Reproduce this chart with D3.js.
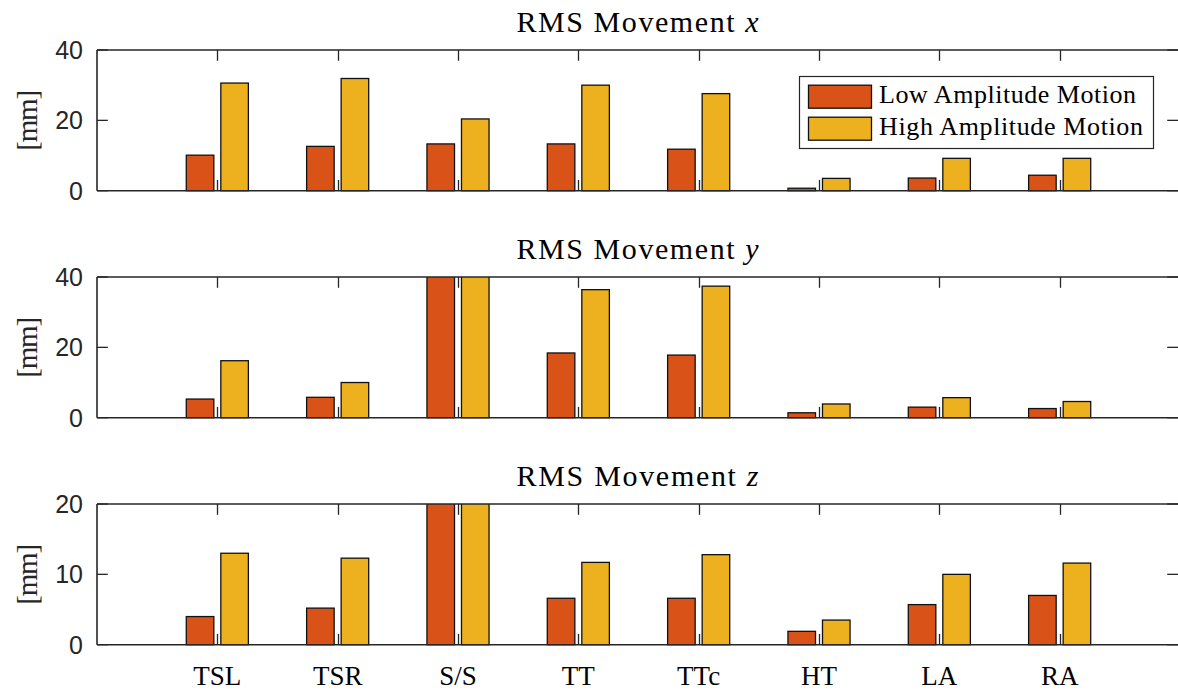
<!DOCTYPE html>
<html>
<head>
<meta charset="utf-8">
<script src="https://cdn.jsdelivr.net/npm/d3@7"></script>
<style>
  html, body { margin: 0; padding: 0; background: #fff; }
  svg { display: block; }
</style>
</head>
<body>
<svg id="chart" width="1178" height="693"></svg>
<script>
// ---- data ----
const categories = ["TSL", "TSR", "S/S", "TT", "TTc", "HT", "LA", "RA"];
const seriesNames = ["Low Amplitude Motion", "High Amplitude Motion"];
const panelTitles = ["x", "y", "z"];

// RMS movement x [mm]
const xLow  = [10.1, 12.6, 13.3, 13.3, 11.8, 0.7, 3.6, 4.4];
const xHigh = [30.6, 31.9, 20.4, 30.0, 27.6, 3.5, 9.2, 9.2];
// RMS movement y [mm]  (S/S exceeds axis limit)
const yLow  = [5.3, 5.8, 48.0, 18.4, 17.8, 1.4, 3.0, 2.6];
const yHigh = [16.2, 10.0, 52.0, 36.4, 37.4, 3.9, 5.7, 4.6];
// RMS movement z [mm]  (S/S exceeds axis limit)
const zLow  = [4.0, 5.2, 26.0, 6.6, 6.6, 1.9, 5.7, 7.0];
const zHigh = [13.0, 12.3, 28.0, 11.7, 12.8, 3.5, 10.0, 11.6];

const yMax = [40, 40, 20];
const yTicks = [[0, 20, 40], [0, 20, 40], [0, 10, 20]];

const panelData = [[xLow, xHigh], [yLow, yHigh], [zLow, zHigh]];
const colors = ["#D95319", "#EDB120"];

// ---- layout ----
const svg = d3.select("#chart");
const left = 97, right = 1180;
const panelTops = [50, 277, 504];
const panelH = 140.7;
const axisColor = "#262626";
const tickLen = 10.8;
const barW = 0.229, barOff = 0.1435;
const serif = "Liberation Serif, Times New Roman, serif";

const x = d3.scaleLinear().domain([0, 9]).range([left, right]);

panelData.forEach((series, p) => {
  const top = panelTops[p], bottom = top + panelH;
  const y = d3.scaleLinear().domain([0, yMax[p]]).range([bottom, top]);
  const g = svg.append("g");

  const clipId = "clip" + p;
  svg.append("clipPath").attr("id", clipId)
    .append("rect").attr("x", left - 2).attr("y", top).attr("width", right - left + 4).attr("height", panelH + 2);

  // ticks (inward)
  const tg = g.append("g").attr("stroke", axisColor).attr("stroke-width", 1.3);
  categories.forEach((c, i) => {
    const cx = Math.round(x(i + 1)) + 0.5;
    tg.append("line").attr("x1", cx).attr("x2", cx).attr("y1", bottom).attr("y2", bottom - tickLen);
    tg.append("line").attr("x1", cx).attr("x2", cx).attr("y1", top).attr("y2", top + tickLen);
  });
  yTicks[p].forEach(t => {
    const ty = y(t);
    tg.append("line").attr("x1", left).attr("x2", left + tickLen).attr("y1", ty).attr("y2", ty);
    tg.append("line").attr("x1", 1178).attr("x2", 1178 - tickLen).attr("y1", ty).attr("y2", ty);
  });

  // bars
  const bg = g.append("g").attr("clip-path", `url(#${clipId})`);
  series.forEach((vals, s) => {
    bg.selectAll(null).data(vals).enter().append("rect")
      .attr("x", (d, i) => x(i + 1 + (s === 0 ? -barOff : barOff) - barW / 2))
      .attr("width", x(barW) - x(0))
      .attr("y", d => y(Math.min(d, yMax[p] * 1.05)))
      .attr("height", d => y(0) - y(Math.min(d, yMax[p] * 1.05)))
      .attr("fill", colors[s])
      .attr("stroke", "#111")
      .attr("stroke-width", 1.3);
  });

  // axis box lines
  const ag = g.append("g").attr("stroke", axisColor).attr("stroke-width", 1.6).attr("fill", "none");
  ag.append("line").attr("x1", left).attr("x2", 1178).attr("y1", bottom).attr("y2", bottom);
  ag.append("line").attr("x1", left).attr("x2", 1178).attr("y1", top).attr("y2", top);
  ag.append("line").attr("x1", left).attr("x2", left).attr("y1", top).attr("y2", bottom);

  // y tick labels
  g.append("g").selectAll("text").data(yTicks[p]).enter().append("text")
    .attr("x", 83).attr("y", d => y(d)).attr("dy", "0.36em")
    .attr("text-anchor", "end")
    .attr("font-family", "Liberation Sans, Arial, sans-serif")
    .attr("font-size", 25).attr("fill", axisColor)
    .text(d => d);

  // y label
  g.append("text")
    .attr("transform", `translate(37, ${(top + bottom) / 2}) rotate(-90)`)
    .attr("text-anchor", "middle")
    .attr("font-family", serif)
    .attr("font-size", 29).attr("fill", axisColor)
    .attr("textLength", 61).attr("lengthAdjust", "spacing")
    .text("[mm]");

  // title
  const title = g.append("text")
    .attr("x", (left + 1178) / 2).attr("y", top - 18.5)
    .attr("text-anchor", "middle")
    .attr("font-family", serif)
    .attr("font-size", 30).attr("fill", "#000")
    .attr("textLength", 242).attr("lengthAdjust", "spacing");
  title.append("tspan").text("RMS Movement ");
  title.append("tspan").attr("font-style", "italic").text(panelTitles[p]);

  // x tick labels on bottom panel
  if (p === 2) {
    g.append("g").selectAll("text").data(categories).enter().append("text")
      .attr("x", (d, i) => x(i + 1)).attr("y", 685)
      .attr("text-anchor", "middle")
      .attr("font-family", serif)
      .attr("font-size", 27).attr("fill", "#000")
      .text(d => d);
  }
});

// legend
const lg = svg.append("g");
lg.append("rect").attr("x", 799.5).attr("y", 76.5).attr("width", 354).attr("height", 72)
  .attr("fill", "#fff").attr("stroke", axisColor).attr("stroke-width", 1.2);
seriesNames.forEach((name, s) => {
  const cy = 96.7 + s * 32;
  lg.append("rect").attr("x", 808.5).attr("y", cy - 11.5).attr("width", 63).attr("height", 23)
    .attr("fill", colors[s]).attr("stroke", "#111").attr("stroke-width", 1.3);
  lg.append("text").attr("x", 879).attr("y", cy + 6.5)
    .attr("font-family", serif)
    .attr("font-size", 26).attr("fill", "#000")
    .attr("textLength", s === 0 ? 257 : 264).attr("lengthAdjust", "spacing")
    .text(name);
});
</script>
</body>
</html>
